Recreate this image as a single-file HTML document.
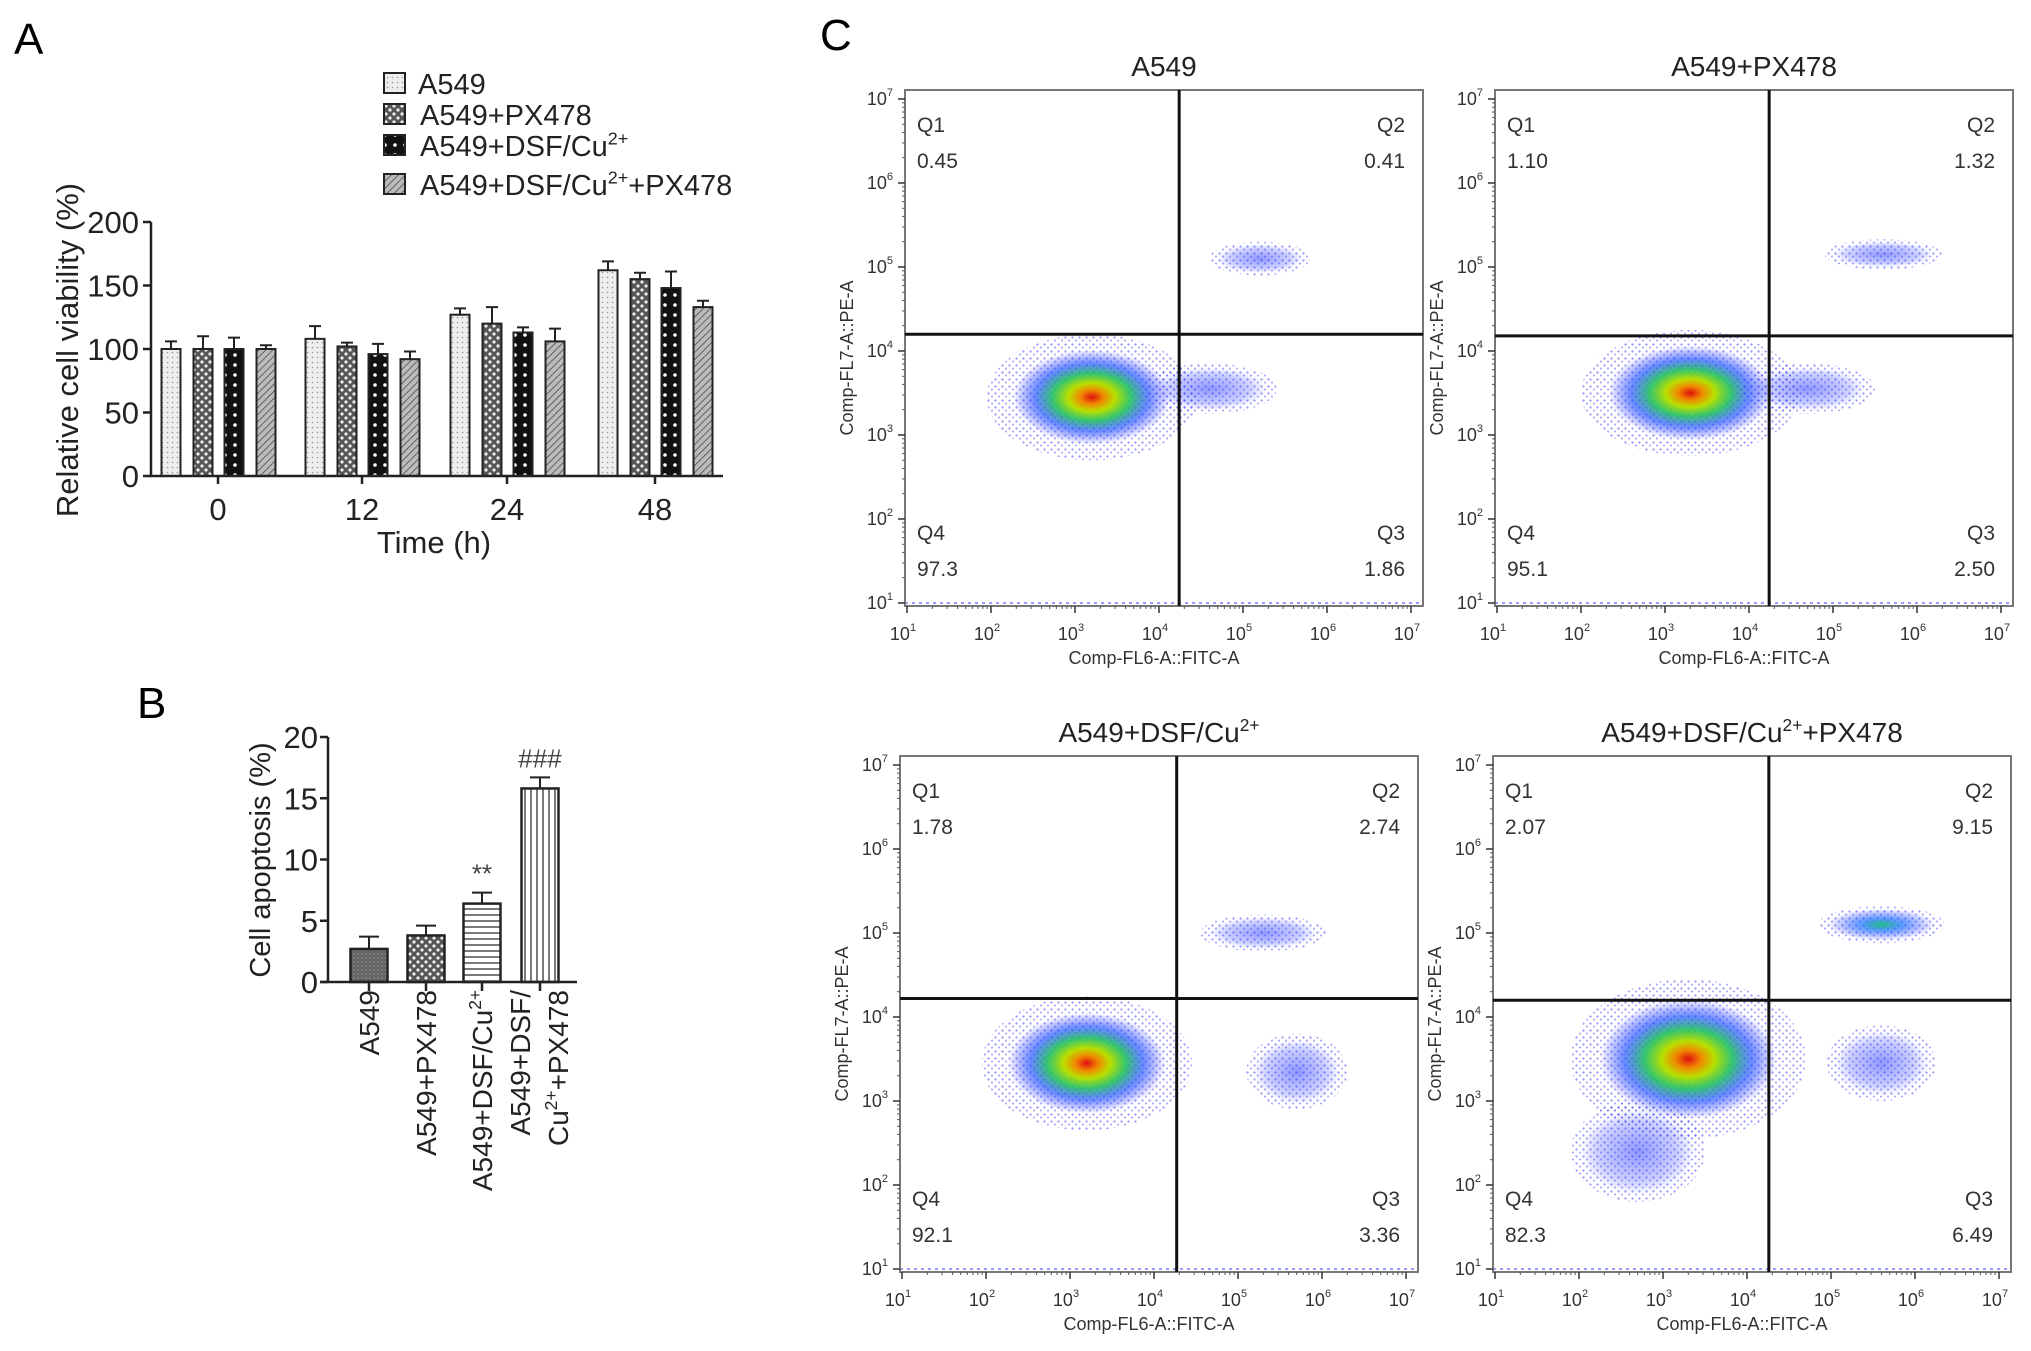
<!DOCTYPE html>
<html><head><meta charset="utf-8"><style>
html,body{margin:0;padding:0;background:#fff;}
svg{display:block;font-family:"Liberation Sans",Arial,sans-serif;}
</style></head><body>
<svg id="fig" width="2031" height="1351" viewBox="0 0 2031 1351" xmlns="http://www.w3.org/2000/svg">
<defs>
<pattern id="pDots" width="5" height="5" patternUnits="userSpaceOnUse"><rect width="5" height="5" fill="#eeeeee"/><circle cx="2.5" cy="2.5" r="0.8" fill="#999"/></pattern>
<pattern id="pCheck" width="8" height="8" patternUnits="userSpaceOnUse"><rect width="8" height="8" fill="#555"/><circle cx="2" cy="2" r="1.6" fill="#eee"/><circle cx="6" cy="6" r="1.6" fill="#eee"/></pattern>
<pattern id="pCheck2" width="10" height="10" patternUnits="userSpaceOnUse"><rect width="10" height="10" fill="#111"/><circle cx="5" cy="5" r="1.8" fill="#fff"/></pattern>
<pattern id="pHatch" width="5" height="5" patternUnits="userSpaceOnUse" patternTransform="rotate(45)"><rect width="5" height="5" fill="#bbb"/><line x1="0" y1="0" x2="0" y2="5" stroke="#444" stroke-width="1.5"/></pattern>
<pattern id="pDark" width="4" height="4" patternUnits="userSpaceOnUse"><rect width="4" height="4" fill="#666"/><circle cx="2" cy="2" r="0.7" fill="#999"/></pattern>
<pattern id="pH" width="6" height="6" patternUnits="userSpaceOnUse"><rect width="6" height="6" fill="#fff"/><line x1="0" y1="3" x2="6" y2="3" stroke="#333" stroke-width="1.3"/></pattern>
<pattern id="pV" width="6" height="6" patternUnits="userSpaceOnUse"><rect width="6" height="6" fill="#fff"/><line x1="3" y1="0" x2="3" y2="6" stroke="#333" stroke-width="1.3"/></pattern>
<pattern id="pBlue" width="7" height="7" patternUnits="userSpaceOnUse"><circle cx="1.5" cy="1.5" r="1.1" fill="#3a3aff"/><circle cx="5" cy="4.5" r="1" fill="#5050ff"/></pattern>
<radialGradient id="gCore"><stop offset="0" stop-color="#e01010"/><stop offset="0.15" stop-color="#f08a00"/><stop offset="0.3" stop-color="#b8e000"/><stop offset="0.5" stop-color="#20c060" stop-opacity="0.9"/><stop offset="0.72" stop-color="#1a4cff" stop-opacity="0.65"/><stop offset="1" stop-color="#2020ff" stop-opacity="0"/></radialGradient>
<radialGradient id="gBlue"><stop offset="0" stop-color="#2030ff" stop-opacity="0.5"/><stop offset="0.7" stop-color="#3040ff" stop-opacity="0.25"/><stop offset="1" stop-color="#3040ff" stop-opacity="0"/></radialGradient>
<radialGradient id="gGreen"><stop offset="0" stop-color="#20c080"/><stop offset="0.4" stop-color="#1a70ff" stop-opacity="0.7"/><stop offset="1" stop-color="#2020ff" stop-opacity="0"/></radialGradient>
</defs>
<g id="panelA"></g>
<g id="panelB"></g>
<g id="panelC"></g>
</svg>
<script>
// ---- Panel A data ----
const timeCats = ["0","12","24","48"];
const seriesNames = ["A549","A549+PX478","A549+DSF/Cu2+","A549+DSF/Cu2++PX478"];
const viaA549 = [100,108,127,162];
const viaPX = [100,102,120,155];
const viaDSF = [100,96,113,148];
const viaCombo = [100,92,106,133];
const errA549 = [6,10,5,7];
const errPX = [10,3,13,5];
const errDSF = [9,8,4,13];
const errCombo = [3,6,10,5];
const yTicksA = [0,50,100,150,200];
// ---- Panel B data ----
const apopCats = ["A549","A549+PX478","A549+DSF/Cu2+","A549+DSF/Cu2++PX478"];
const apopVals = [2.7,3.8,6.4,15.8];
const apopErr = [1.0,0.8,0.9,0.9];
const apopSig = ["","","**","###"];
const yTicksB = [0,5,10,15,20];
// ---- Panel C data ----
const flowTitles = ["A549","A549+PX478","A549+DSF/Cu2+","A549+DSF/Cu2++PX478"];
const q1Vals = ["0.45","1.10","1.78","2.07"];
const q2Vals = ["0.41","1.32","2.74","9.15"];
const q3Vals = ["1.86","2.50","3.36","6.49"];
const q4Vals = ["97.3","95.1","92.1","82.3"];
const gateX = [4.24,4.24,4.27,4.26];
const gateY = [4.2,4.18,4.22,4.2];
// clusters: [logX, logY, spreadX, spreadY, kind]
const clusters0 = [[3.2,3.45,1.25,0.75,"core"],[4.6,3.55,0.8,0.3,"blue"],[5.2,5.1,0.6,0.2,"blue"]];
const clusters1 = [[3.3,3.5,1.3,0.75,"core"],[4.7,3.55,0.8,0.3,"blue"],[5.6,5.15,0.7,0.18,"blue"]];
const clusters2 = [[3.2,3.45,1.25,0.8,"core"],[5.3,5.0,0.75,0.22,"blue"],[5.7,3.35,0.6,0.45,"blue"]];
const clusters3 = [[3.3,3.5,1.4,0.95,"core"],[5.6,5.1,0.75,0.22,"green"],[5.6,3.45,0.65,0.45,"blue"],[2.7,2.4,0.8,0.6,"blue"]];
const flowClusters = [clusters0,clusters1,clusters2,clusters3];

const NS="http://www.w3.org/2000/svg";
function mk(tag,attrs,parent){const e=document.createElementNS(NS,tag);for(const k in attrs)e.setAttribute(k,attrs[k]);parent.appendChild(e);return e;}
function txtCu(parent,s,fs){
  const parts=s.split("2+");
  parts.forEach((p,i)=>{
    const t=document.createElementNS(NS,"tspan");t.textContent=p;
    if(i>0)t.setAttribute("dy",fs*0.4);
    if(p.length||i==0)parent.appendChild(t);
    if(i<parts.length-1){const sup=document.createElementNS(NS,"tspan");sup.textContent="2+";sup.setAttribute("font-size",fs*0.62);sup.setAttribute("dy",-fs*0.4);parent.appendChild(sup);}
  });
}

// ===== Panel A =====
(function(){
  const g=document.getElementById('panelA');
  const x0=151,x1=723,yb=476,yt=222;
  const y=v=>yb-(v/200)*(yb-yt);
  const gc=[218,362,507,655];
  const off=[-47,-15,16,48], bw=19;
  const fills=["url(#pDots)","url(#pCheck)","url(#pCheck2)","url(#pHatch)"];
  const vals=[viaA549,viaPX,viaDSF,viaCombo], errs=[errA549,errPX,errDSF,errCombo];
  let t=mk('text',{x:14,y:54,'font-size':44},g);t.textContent="A";
  
  
  vals.forEach((arr,s)=>arr.forEach((v,i)=>{
    const cx=gc[i]+off[s];
    const r=mk('rect',{x:cx-bw/2,y:y(v),width:bw,height:yb-y(v),fill:fills[s],stroke:'#222','stroke-width':2},g);
    
    
    const e=mk('path',{d:`M${cx} ${y(v)}V${y(v+errs[s][i])}M${cx-6} ${y(v+errs[s][i])}H${cx+6}`,stroke:'#222','stroke-width':2,fill:'none'},g);
    
    
  }));
  mk('path',{d:`M${x0} ${yt}V${yb}H${x1}`,stroke:'#222','stroke-width':2.5,fill:'none'},g);
  yTicksA.forEach(v=>{mk('line',{x1:x0-8,x2:x0,y1:y(v),y2:y(v),stroke:'#222','stroke-width':2.5},g);
    const tt=mk('text',{x:x0-12,y:y(v)+11,'font-size':31,'text-anchor':'end',fill:'#222'},g);tt.textContent=v;
    
    });
  timeCats.forEach((c,i)=>{mk('line',{x1:gc[i],x2:gc[i],y1:yb,y2:yb+8,stroke:'#222','stroke-width':2.5},g);
    const tt=mk('text',{x:gc[i],y:520,'font-size':31,'text-anchor':'middle',fill:'#222'},g);tt.textContent=c;
    
    });
  t=mk('text',{x:434,y:553,'font-size':31,'text-anchor':'middle',fill:'#222'},g);t.textContent="Time (h)";
  
  
  t=mk('text',{x:0,y:0,'font-size':31,'text-anchor':'middle',fill:'#222',transform:'translate(78,350) rotate(-90)'},g);t.textContent="Relative cell viability (%)";
  
  
  const ly=[83,114,145,184];
  seriesNames.forEach((n,s)=>{
    const le=mk('g',{},g);
    
    
    mk('rect',{x:384,y:ly[s]-10,width:21,height:20,fill:fills[s],stroke:'#222','stroke-width':2},le);
    const tt=mk('text',{x:(s==0?418:420),y:ly[s]+11,'font-size':29,fill:'#222'},le);txtCu(tt,n,29);
  });
})();

// ===== Panel B =====
(function(){
  const g=document.getElementById('panelB');
  const x0=328,x1=577,yb=982,yt=737;
  const y=v=>yb-(v/20)*(yb-yt);
  const cx=[369,426,482,540], bw=37;
  const fills=["url(#pDark)","url(#pCheck)","url(#pH)","url(#pV)"];
  let t=mk('text',{x:137,y:718,'font-size':44},g);t.textContent="B";
  
  
  apopVals.forEach((v,i)=>{
    const r=mk('rect',{x:cx[i]-bw/2,y:y(v),width:bw,height:yb-y(v),fill:fills[i],stroke:'#222','stroke-width':2.5},g);
    
    
    const ev=v+apopErr[i];
    mk('path',{d:`M${cx[i]} ${y(v)}V${y(ev)}M${cx[i]-10} ${y(ev)}H${cx[i]+10}`,stroke:'#222','stroke-width':2,fill:'none'},g);
    if(apopSig[i]){const s=mk('text',{x:cx[i],y:y(ev)-10,'font-size':26,'text-anchor':'middle',fill:'#444'},g);s.textContent=apopSig[i];
      
      }
  });
  mk('path',{d:`M${x0} ${yt}V${yb}M${x0-8} ${yb}H${x1}`,stroke:'#222','stroke-width':2.5,fill:'none'},g);
  yTicksB.forEach(v=>{mk('line',{x1:x0-8,x2:x0,y1:y(v),y2:y(v),stroke:'#222','stroke-width':2.5},g);
    const tt=mk('text',{x:x0-10,y:y(v)+11,'font-size':31,'text-anchor':'end',fill:'#222'},g);tt.textContent=v;
    
    });
  t=mk('text',{x:0,y:0,'font-size':29,'text-anchor':'middle',fill:'#222',transform:'translate(270,860) rotate(-90)'},g);t.textContent="Cell apoptosis (%)";
  
  
  apopCats.forEach((c,i)=>{
    mk('line',{x1:cx[i],x2:cx[i],y1:yb,y2:yb+9,stroke:'#222','stroke-width':2.5},g);
    if(i<3){const tt=mk('text',{x:0,y:0,'font-size':28,'text-anchor':'end',fill:'#222',transform:`translate(${cx[i]+10},990) rotate(-90)`},g);txtCu(tt,c,28);
      
      }
    else{
      const t1=mk('text',{x:0,y:0,'font-size':28,'text-anchor':'end',fill:'#222',transform:`translate(${cx[i]-10},990) rotate(-90)`},g);t1.textContent="A549+DSF/";
      
      
      const t2=mk('text',{x:0,y:0,'font-size':28,'text-anchor':'end',fill:'#222',transform:`translate(${cx[i]+28},990) rotate(-90)`},g);txtCu(t2,"Cu2++PX478",28);
      
      
    }
  });
})();

// ===== Panel C =====
(function(){
  const root=document.getElementById('panelC');
  let t=mk('text',{x:820,y:50,'font-size':44},root);t.textContent="C";
  
  
  const origins=[[905,90],[1495,90],[900,756],[1493,756]];
  const W=518,H=516;
  flowTitles.forEach((title,k)=>{
    const [ox,oy]=origins[k];
    const g=mk('g',{},root);
    
    
    const dx=(W-14)/6, dy=(H-12)/6;
    const X=d=>ox+2+(d-1)*dx, Y=d=>oy+H-3-(d-1)*dy;
    const cp='clip'+k;
    const cl=mk('clipPath',{id:cp},g);mk('rect',{x:ox,y:oy,width:W,height:H},cl);
    const cg=mk('g',{'clip-path':`url(#${cp})`},g);
    flowClusters[k].forEach(c=>{
      const [lx,ly,sx,sy,kind]=c;
      const e1=mk('ellipse',{cx:X(lx),cy:Y(ly),rx:sx*dx,ry:sy*dy,fill:'url(#pBlue)',opacity:0.55},cg);
      
      
      const grad=kind==='core'?'url(#gCore)':(kind==='green'?'url(#gGreen)':'url(#gBlue)');
      const sc=kind==='core'?0.75:0.85;
      const e2=mk('ellipse',{cx:X(lx),cy:Y(ly),rx:sx*dx*sc,ry:sy*dy*sc,fill:grad},cg);
      
      
    });
    mk('line',{x1:ox,x2:ox+W,y1:oy+H-3,y2:oy+H-3,stroke:'#5060ff','stroke-width':2,'stroke-dasharray':'3 4',opacity:0.6},cg);
    mk('rect',{x:ox,y:oy,width:W,height:H,fill:'none',stroke:'#777','stroke-width':2},g);
    mk('line',{x1:X(gateX[k]),x2:X(gateX[k]),y1:oy,y2:oy+H,stroke:'#111','stroke-width':3},g);
    mk('line',{x1:ox,x2:ox+W,y1:Y(gateY[k]),y2:Y(gateY[k]),stroke:'#111','stroke-width':3},g);
    for(let d=1;d<=7;d++){
      mk('line',{x1:X(d),x2:X(d),y1:oy+H,y2:oy+H+7,stroke:'#333','stroke-width':1.5},g);
      mk('line',{x1:ox-7,x2:ox,y1:Y(d),y2:Y(d),stroke:'#333','stroke-width':1.5},g);
      if(d<7)for(let m=2;m<10;m++){const f=Math.log10(m);
        mk('line',{x1:X(d+f),x2:X(d+f),y1:oy+H,y2:oy+H+3,stroke:'#555','stroke-width':1},g);
        mk('line',{x1:ox-3,x2:ox,y1:Y(d+f),y2:Y(d+f),stroke:'#555','stroke-width':1},g);}
      const xt=mk('text',{x:X(d)-4,y:oy+H+34,'font-size':18,'text-anchor':'middle',fill:'#333'},g);
      xt.innerHTML=`10<tspan font-size="11" dy="-9">${d}</tspan>`;
      
      
      const yt=mk('text',{x:ox-12,y:Y(d)+6,'font-size':18,'text-anchor':'end',fill:'#333'},g);
      yt.innerHTML=`10<tspan font-size="11" dy="-9">${d}</tspan>`;
      
      
    }
    const tt=mk('text',{x:ox+W/2,y:oy-14,'font-size':28,'text-anchor':'middle',fill:'#222'},g);txtCu(tt,title,28);
    
    
    const xl=mk('text',{x:ox+W/2-10,y:oy+H+58,'font-size':18,'text-anchor':'middle',fill:'#333'},g);xl.textContent="Comp-FL6-A::FITC-A";
    
    
    const yl=mk('text',{x:0,y:0,'font-size':18,'text-anchor':'middle',fill:'#333',transform:`translate(${ox-52},${oy+H/2+10}) rotate(-90)`},g);yl.textContent="Comp-FL7-A::PE-A";
    
    
    const qs=[["Q1",q1Vals[k],ox+12,oy+42,'start'],["Q2",q2Vals[k],ox+W-18,oy+42,'end'],["Q4",q4Vals[k],ox+12,oy+H-66,'start'],["Q3",q3Vals[k],ox+W-18,oy+H-66,'end']];
    qs.forEach(q=>{
      const a=mk('text',{x:q[2],y:q[3],'font-size':21,'text-anchor':q[4],fill:'#333'},g);a.textContent=q[0];
      
      
      const b=mk('text',{x:q[2],y:q[3]+36,'font-size':21,'text-anchor':q[4],fill:'#333'},g);b.textContent=q[1];
      
      
    });
  });
})();
</script>
</body></html>
